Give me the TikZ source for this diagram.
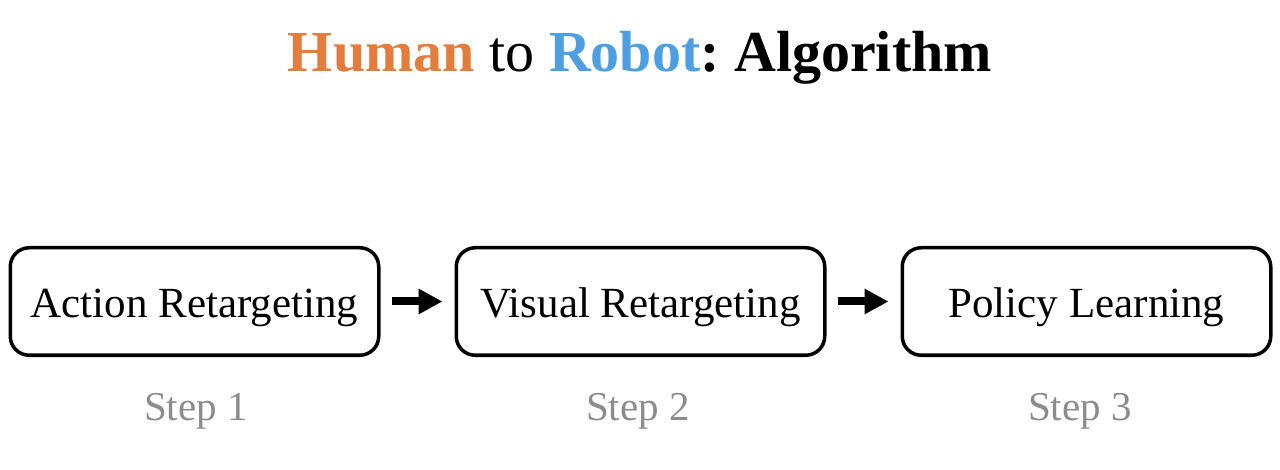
\documentclass[tikz,border=0pt]{standalone}
\usepackage{fontspec}
\setmainfont{Liberation Serif}
\usetikzlibrary{positioning,arrows.meta}
\definecolor{humanorange}{RGB}{226,125,62}
\definecolor{robotblue}{RGB}{78,158,226}
\definecolor{stepgray}{RGB}{140,140,140}
\tikzset{%
  stagebox/.style  = {shape=rectangle, rounded corners=19pt,%
                      draw, line width=3.5pt,%
                      minimum width=368.5pt, minimum height=107.5pt,%
                      text height=40pt, text depth=7pt,%
                      font=\fontsize{43}{48}\selectfont},%
  steplabel/.style = {anchor=base, text=stepgray,%
                      font=\fontsize{41}{48}\selectfont},%
  flow/.style      = {line width=8pt, -{Triangle[length=24pt,width=24pt]},%
                      shorten <=11pt, shorten >=12pt}%
}
\begin{document}
\frenchspacing
\begin{tikzpicture}[x=1pt,y=-1pt,node distance=74pt]
		\useasboundingbox (0,0) rectangle (1280,470);
		% title
		\node[anchor=base, font=\fontsize{58}{66}\selectfont] (title) at (640,72)
			{\textbf{\color{humanorange}Human} to \textbf{\color{robotblue}Robot}\textbf{: Algorithm}};
		% the three stages
		\node[stagebox] (action) at (194.5,301.5) {Action Retargeting};
		\node[stagebox, right=of action] (visual) {Visual Retargeting};
		\node[stagebox, right=of visual] (policy) {Policy Learning};
		\draw[flow] (action) -- (visual);
		\draw[flow] (visual) -- (policy);
		% step labels
		\node[steplabel] (step1) at (196,420) {Step 1};
		\node[steplabel] (step2) at (638,420) {Step 2};
		\node[steplabel] (step3) at (1080,420) {Step 3};
\end{tikzpicture}
\end{document}
